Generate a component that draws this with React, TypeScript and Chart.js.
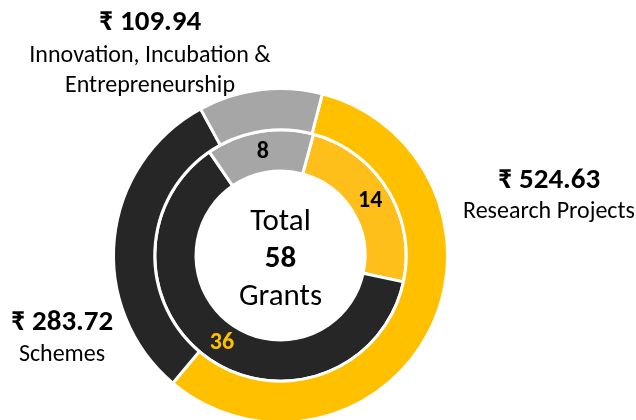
import React, { useEffect, useRef } from "react";
import { Chart, registerables } from "chart.js";

Chart.register(...registerables);

// ---- data ----
const categories = ["Research Projects", "Schemes", "Innovation, Incubation & Entrepreneurship"];
const amounts = [524.63, 283.72, 109.94]; // ₹ outer ring
const grants = [14, 36, 8]; // inner ring
const amountLabels = ["₹ 524.63", "₹ 283.72", "₹ 109.94"];
const nameLines = [["Research Projects"], ["Schemes"], ["Innovation, Incubation &", "Entrepreneurship"]];
const centerLines = ["Total", "58", "Grants"];

// ---- styles ----
const outerColors = ["#FFC000", "#262626", "#A6A6A6"];
const innerColors = ["#FFBF1A", "#262626", "#A6A6A6"];
const innerLabelColors = ["#000000", "#FFC000", "#000000"];
const FONT = "Carlito, Lato, 'Open Sans', sans-serif";

// anchor positions for the outside labels (amount line y, name line ys)
const outsideAnchors = [
  { x: 549, yAmt: 181, yNames: [212] },
  { x: 62, yAmt: 323, yNames: [355] },
  { x: 150, yAmt: 23, yNames: [56, 86] },
];

const labelPlugin = {
  id: "labels",
  afterDatasetsDraw(chart: any) {
    const ctx = chart.ctx as CanvasRenderingContext2D;
    ctx.save();
    ctx.textAlign = "center";
    ctx.textBaseline = "middle";
    // inner ring counts
    const meta = chart.getDatasetMeta(1);
    meta.data.forEach((arc: any, i: number) => {
      const p = arc.tooltipPosition();
      ctx.fillStyle = innerLabelColors[i];
      ctx.font = `bold 24px ${FONT}`;
      ctx.fillText(String(grants[i]), p.x, p.y);
    });
    // center text
    const cx = (chart.chartArea.left + chart.chartArea.right) / 2;
    const cy = (chart.chartArea.top + chart.chartArea.bottom) / 2;
    ctx.fillStyle = "#000";
    ctx.font = `31px ${FONT}`;
    ctx.fillText(centerLines[0], cx, cy - 33);
    ctx.font = `bold 31px ${FONT}`;
    ctx.fillText(centerLines[1], cx, cy + 4);
    ctx.font = `31px ${FONT}`;
    ctx.fillText(centerLines[2], cx, cy + 42);
    // outside labels
    outsideAnchors.forEach((a, i) => {
      ctx.fillStyle = "#000";
      ctx.font = `bold 29px ${FONT}`;
      ctx.fillText(amountLabels[i], a.x, a.yAmt);
      ctx.font = `24px ${FONT}`;
      nameLines[i].forEach((t, j) => ctx.fillText(t, a.x, a.yNames[j]));
    });
    ctx.restore();
  },
};

export default function App() {
  const ref = useRef<HTMLCanvasElement>(null);
  useEffect(() => {
    if (!ref.current) return;
    const chart = new Chart(ref.current, {
      type: "doughnut",
      data: {
        labels: categories,
        datasets: [
          {
            data: amounts,
            backgroundColor: outerColors,
            borderColor: "#ffffff",
            borderWidth: 3,
            rotation: 14.5,
          } as any,
          {
            data: grants,
            backgroundColor: innerColors,
            borderColor: "#ffffff",
            borderWidth: 3,
            rotation: 15.2,
          } as any,
        ],
      },
      options: {
        responsive: false,
        animation: false,
        events: [],
        radius: 167,
        cutout: `${(84.5 / 167) * 100}%`,
        layout: { padding: { left: 0, right: 75, top: 91, bottom: 0 } },
        plugins: { legend: { display: false }, tooltip: { enabled: false } },
      } as any,
      plugins: [labelPlugin],
    });
    return () => chart.destroy();
  }, []);
  return (
    <div style={{ position: "fixed", left: 0, top: 0, width: 636, height: 420, background: "#fff" }}>
      <canvas ref={ref} width={636} height={420} style={{ display: "block" }} />
    </div>
  );
}
